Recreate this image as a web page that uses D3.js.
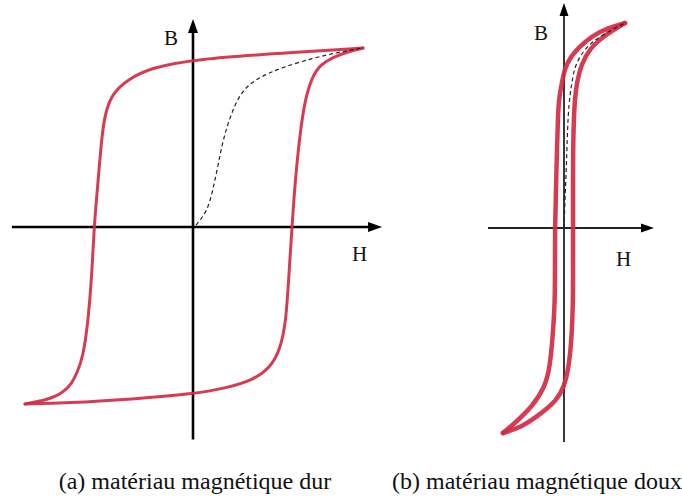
<!DOCTYPE html>
<html><head><meta charset="utf-8">
<script src="https://cdn.jsdelivr.net/npm/d3@7/dist/d3.min.js"></script>
<style>html,body{margin:0;padding:0;background:#fff;}svg{display:block;}</style>
</head><body>
<script>
// ---- Data (H, B) in normalized units ----
// (a) hard magnetic material
const hardUpperH = [1.717,1.717,1.081,0,-0.434,-0.667,-0.808,-0.879,-0.919,-0.960,-1.0,-1.020,-1.061,-1.111,-1.172,-1.222,-1.313,-1.475,-1.697,-1.697];
const hardUpperB = [0.994,0.994,0.972,0.933,0.883,0.817,0.744,0.650,0.522,0.244,0,-0.256,-0.533,-0.722,-0.811,-0.867,-0.922,-0.961,-0.983,-0.983];
const hardLowerH = [-1.697,-1.697,-1.273,-0.606,0,0.343,0.606,0.778,0.879,0.939,0.970,1.0,1.030,1.081,1.131,1.202,1.283,1.414,1.556,1.717,1.717];
const hardLowerB = [-0.983,-0.983,-0.978,-0.956,-0.928,-0.894,-0.850,-0.783,-0.683,-0.533,-0.256,0,0.244,0.522,0.706,0.833,0.900,0.944,0.972,0.994,0.994];
const hardFirstH = [0.03,0.141,0.202,0.253,0.303,0.374,0.455,0.545,0.677,0.879,1.212,1.485,1.707];
const hardFirstB = [0.011,0.083,0.206,0.344,0.483,0.611,0.717,0.783,0.833,0.883,0.939,0.972,0.994];
const hardAxisH = [-1.83, 1.91];
const hardAxisB = [-1.18, 1.156];

// (b) soft magnetic material
const softUpperH = [1,1,0.721,0.459,0.230,0.098,0.016,-0.033,-0.082,-0.098,-0.115,-0.131,-0.148,-0.148,-0.148,-0.180,-0.230,-0.311,-0.525,-0.803,-1,-1];
const softUpperB = [1,1,0.976,0.937,0.878,0.829,0.780,0.712,0.634,0.551,0.390,0.185,0,-0.180,-0.351,-0.512,-0.678,-0.776,-0.873,-0.951,-1,-1];
const softLowerH = [-1,-1,-0.689,-0.361,-0.115,0,0.082,0.131,0.148,0.148,0.148,0.148,0.148,0.164,0.180,0.213,0.279,0.426,0.672,1,1];
const softLowerB = [-1,-1,-0.971,-0.902,-0.839,-0.776,-0.678,-0.512,-0.351,-0.180,0,0.185,0.390,0.551,0.634,0.712,0.795,0.878,0.941,1,1];
const softFirstH = [0,0.016,0.033,0.049,0.066,0.098,0.131,0.180,0.344,0.590,1];
const softFirstB = [0,0.137,0.259,0.390,0.551,0.649,0.712,0.795,0.878,0.937,1];
const softAxisH = [-1.246, 1.475];
const softAxisB = [-1.044, 1.098];

const axisLabels = ["B", "H"];
const captions = ["(a) matériau magnétique dur", "(b) matériau magnétique doux"];

const W = 682, H = 497;
const svg = d3.select("body").append("svg").attr("width", W).attr("height", H);
const red = "#d42a45";
const serif = "'Liberation Serif', 'Times New Roman', serif";

const zip = (xs, ys) => xs.map((x, i) => [x, ys[i]]);

function panel(cfg) {
  const x = d3.scaleLinear().domain([-1, 1]).range(cfg.xr);
  const y = d3.scaleLinear().domain([-1, 1]).range(cfg.yr);
  const g = svg.append("g");
  const line = d3.line().x(d => x(d[0])).y(d => y(d[1])).curve(d3.curveBasis);

  // axes
  const x0 = x(0), y0 = y(0);
  const hx1 = x(cfg.axH[0]), hx2 = x(cfg.axH[1]);
  const vy1 = y(cfg.axB[0]), vy2 = y(cfg.axB[1]);
  const a = cfg.arrow;
  g.append("line").attr("x1", hx1).attr("x2", hx2 - a.len + 2).attr("y1", y0).attr("y2", y0)
    .attr("stroke", cfg.axisColor).attr("stroke-width", cfg.axisW);
  g.append("line").attr("x1", x0).attr("x2", x0).attr("y1", vy1).attr("y2", vy2 + a.len - 2)
    .attr("stroke", cfg.axisColor).attr("stroke-width", cfg.axisW);
  g.append("path").attr("d", `M${hx2},${y0} L${hx2 - a.len},${y0 - a.half} L${hx2 - a.len},${y0 + a.half} Z`).attr("fill", "#000");
  g.append("path").attr("d", `M${x0},${vy2} L${x0 - a.half},${vy2 + a.len} L${x0 + a.half},${vy2 + a.len} Z`).attr("fill", "#000");

  // loops
  [[cfg.upH, cfg.upB], [cfg.loH, cfg.loB]].forEach(([hs, bs]) => {
    g.append("path").attr("d", line(zip(hs, bs))).attr("fill", "none")
      .attr("stroke", red).attr("stroke-width", cfg.loopW).attr("stroke-linecap", "round").attr("stroke-opacity", 0.92);
  });
  g.append("path").attr("d", line(zip(cfg.fH, cfg.fB))).attr("fill", "none")
    .attr("stroke", "#222").attr("stroke-width", 1.2).attr("stroke-dasharray", "4,3");

  // labels
  g.append("text").attr("x", cfg.bLab[0]).attr("y", cfg.bLab[1]).text(axisLabels[0])
    .attr("font-family", serif).attr("font-size", 21).attr("fill", "#111");
  g.append("text").attr("x", cfg.hLab[0]).attr("y", cfg.hLab[1]).text(axisLabels[1])
    .attr("font-family", serif).attr("font-size", 21).attr("fill", "#111");
  g.append("text").attr("x", cfg.cap[0]).attr("y", cfg.cap[1]).text(cfg.caption)
    .attr("font-family", serif).attr("font-size", 24).attr("fill", "#111").attr("text-anchor", cfg.capAnchor);
}

panel({
  xr: [94, 292], yr: [407, 47],
  axH: hardAxisH, axB: hardAxisB,
  upH: hardUpperH, upB: hardUpperB, loH: hardLowerH, loB: hardLowerB, fH: hardFirstH, fB: hardFirstB,
  axisColor: "#000", axisW: 2.6, loopW: 3, arrow: {len: 14, half: 5},
  bLab: [164, 45], hLab: [352, 261], cap: [195, 489], capAnchor: "middle", caption: captions[0]
});
panel({
  xr: [503, 625], yr: [433, 23],
  axH: softAxisH, axB: softAxisB,
  upH: softUpperH, upB: softUpperB, loH: softLowerH, loB: softLowerB, fH: softFirstH, fB: softFirstB,
  axisColor: "#222", axisW: 1.8, loopW: 4.5, arrow: {len: 13, half: 4.5},
  bLab: [534, 40], hLab: [616, 266], cap: [392, 489], capAnchor: "start", caption: captions[1]
});
</script>
</body></html>
